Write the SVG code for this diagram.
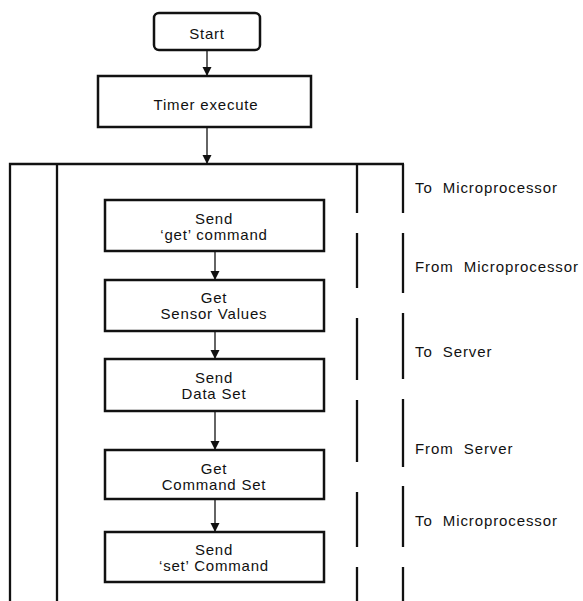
<svg xmlns="http://www.w3.org/2000/svg" width="583" height="601" viewBox="0 0 583 601">
  <style>
    .box { fill: #fff; stroke: #111; stroke-width: 2.5; }
    .frame { stroke: #111; stroke-width: 2.3; fill: none; }
    .conn { stroke: #111; stroke-width: 1.3; fill: none; marker-end: url(#arrow); }
    text { font-family: "Liberation Sans", Arial, sans-serif; font-size: 15px; fill: #111; letter-spacing: 0.8px; }
    .c { text-anchor: middle; }
    .lbl { letter-spacing: 0.9px; }
  </style>
  <defs>
    <marker id="arrow" markerUnits="userSpaceOnUse" markerWidth="10" markerHeight="10" viewBox="0 0 10 10" refX="9" refY="5" orient="auto">
      <path d="M0,0.5 L9,5 L0,9.5 Z" fill="#111"/>
    </marker>
  </defs>

  <!-- loop frame with the two lanes -->
  <g id="frame">
    <path class="frame" d="M10,601 V164 H404"/>
    <line class="frame" x1="57" y1="164" x2="57" y2="601"/>
    <!-- interface lane, broken at each transfer -->
    <path class="frame" d="M357,164 V213 M357,233 V288 M357,318 V380 M357,400 V462 M357,492 V547 M357,567 V601"/>
    <path class="frame" d="M403,164 V213 M403,233 V293 M403,313 V379 M403,399 V467 M403,486 V547 M403,567 V601"/>
  </g>

  <g id="start">
    <rect class="box" x="154" y="13" width="106" height="37" rx="5"/>
    <text class="c" x="207" y="39">Start</text>
  </g>
  <g id="timer">
    <rect class="box" x="98" y="76" width="213" height="51"/>
    <text class="c" x="206" y="110">Timer execute</text>
  </g>
  <g id="send-get">
    <rect class="box" x="105" y="200" width="219" height="51"/>
    <text class="c" x="214" y="224">Send</text>
    <text class="c" x="214" y="240">‘get’ command</text>
  </g>
  <g id="get-sensor">
    <rect class="box" x="105" y="280" width="219" height="51"/>
    <text class="c" x="214" y="303">Get</text>
    <text class="c" x="214" y="319">Sensor Values</text>
  </g>
  <g id="send-data">
    <rect class="box" x="105" y="359" width="219" height="52"/>
    <text class="c" x="214" y="383">Send</text>
    <text class="c" x="214" y="399">Data Set</text>
  </g>
  <g id="get-command">
    <rect class="box" x="105" y="450" width="219" height="49"/>
    <text class="c" x="214" y="474">Get</text>
    <text class="c" x="214" y="490">Command Set</text>
  </g>
  <g id="send-set">
    <rect class="box" x="105" y="532" width="219" height="50"/>
    <text class="c" x="214" y="555">Send</text>
    <text class="c" x="214" y="571">‘set’ Command</text>
  </g>

  <g id="connectors">
    <line class="conn" x1="207" y1="50" x2="207" y2="76"/>
    <line class="conn" x1="207" y1="127" x2="207" y2="164"/>
    <line class="conn" x1="215" y1="251" x2="215" y2="280"/>
    <line class="conn" x1="215" y1="331" x2="215" y2="359"/>
    <line class="conn" x1="215" y1="411" x2="215" y2="450"/>
    <line class="conn" x1="215" y1="499" x2="215" y2="532"/>
  </g>

  <g id="lane-labels">
    <text class="lbl" x="415" y="193" xml:space="preserve">To  Microprocessor</text>
    <text class="lbl" x="415" y="272" xml:space="preserve">From  Microprocessor</text>
    <text class="lbl" x="415" y="357" xml:space="preserve">To  Server</text>
    <text class="lbl" x="415" y="454" xml:space="preserve">From  Server</text>
    <text class="lbl" x="415" y="526" xml:space="preserve">To  Microprocessor</text>
  </g>
</svg>
